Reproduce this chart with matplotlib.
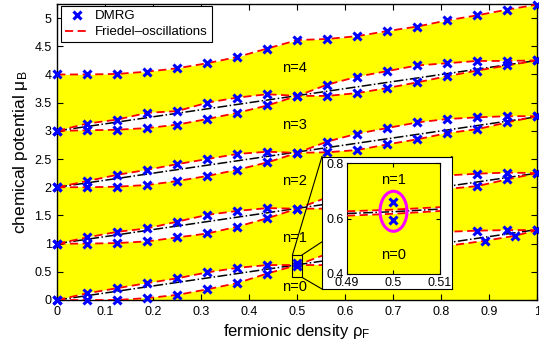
import matplotlib
matplotlib.use('Agg')
import numpy as np
import matplotlib.pyplot as plt
from matplotlib.patches import Ellipse, Rectangle
from matplotlib.ticker import FuncFormatter

plt.rcParams['font.family'] = ['Liberation Sans', 'DejaVu Sans']
plt.rcParams['mathtext.fontset'] = 'custom'
plt.rcParams['mathtext.rm'] = 'Liberation Sans'
plt.rcParams['mathtext.it'] = 'Liberation Sans:italic'

# --- data ---
rho = [0, 0.0625, 0.125, 0.1875, 0.25, 0.3125, 0.375, 0.4375, 0.5,
       0.5625, 0.625, 0.6875, 0.75, 0.8125, 0.875, 0.9375, 1.0]

# upper boundary of the n=4 plateau
top = [4.00, 4.00, 4.01, 4.05, 4.11, 4.20, 4.31, 4.46, 4.61,
       4.63, 4.68, 4.77, 4.85, 4.96, 5.05, 5.15, 5.24]

# gap between plateau n and n+1: upper edge (start of n+1), lower edge (end of n)
up0 = [0.00, 0.12, 0.21, 0.30, 0.385, 0.49, 0.57, 0.62, 0.62,
       0.82, 0.96, 1.06, 1.15, 1.21, 1.23, 1.24, 1.24]
lo0_x = [0, 0.0625, 0.125, 0.1875, 0.25, 0.3125, 0.375, 0.4375, 0.5,
         0.5625, 0.625, 0.6875, 0.75, 0.8125, 0.891, 0.954, 1.0]
lo0 = [0.00, 0.00, 0.00, 0.035, 0.09, 0.19, 0.30, 0.47, 0.62,
       0.62, 0.67, 0.76, 0.86, 0.96, 1.05, 1.14, 1.24]

up1 = [1.00, 1.11, 1.21, 1.27, 1.39, 1.51, 1.58, 1.63, 1.62,
       1.82, 1.96, 2.06, 2.15, 2.21, 2.24, 2.26, 2.25]
lo1 = [1.00, 1.00, 1.01, 1.04, 1.11, 1.18, 1.30, 1.45, 1.62,
       1.62, 1.67, 1.76, 1.86, 1.97, 2.02, 2.14, 2.25]

up2 = [2.00, 2.11, 2.22, 2.31, 2.41, 2.50, 2.59, 2.63, 2.61,
       2.81, 2.95, 3.05, 3.15, 3.21, 3.24, 3.26, 3.26]
lo2 = [2.00, 2.00, 2.01, 2.04, 2.11, 2.20, 2.31, 2.44, 2.61,
       2.62, 2.66, 2.76, 2.85, 2.96, 3.03, 3.15, 3.26]

up3 = [3.00, 3.13, 3.20, 3.32, 3.35, 3.50, 3.59, 3.65, 3.62,
       3.82, 3.96, 4.06, 4.16, 4.20, 4.24, 4.24, 4.25]
lo3 = [3.00, 3.01, 3.02, 3.05, 3.11, 3.21, 3.32, 3.45, 3.62,
       3.62, 3.67, 3.76, 3.86, 3.97, 4.07, 4.16, 4.25]

# linear guide through each gap
mid_x = [0, 1]
mid_y = [[0, 1.25], [1, 2.25], [2, 3.25], [3, 4.25]]

# the two DMRG points at rho=0.5 that the inset resolves
dmrg_half_x = [0.5, 0.5]
dmrg_half_y = [0.661, 0.596]

# inset curves
ins_x = [0.49, 0.5, 0.51]
ins_up = [0.627, 0.633, 0.642]
ins_lo = [0.611, 0.618, 0.628]
ins_mid = [0.619, 0.6255, 0.635]

plateau_labels = ['n=4', 'n=3', 'n=2', 'n=1', 'n=0']
plateau_y = [4.11, 3.11, 2.11, 1.10, 0.23]

# --- figure ---
fig = plt.figure(figsize=(5.39, 3.51), dpi=100)
ax = fig.add_axes([0.1063, 0.1453, 0.8905, 0.8433])
ax.set_facecolor('white')

ax.fill_between(rho, 0, top, color='yellow', lw=0, zorder=1)
bands = [(rho, up0, lo0_x, lo0), (rho, up1, rho, lo1), (rho, up2, rho, lo2), (rho, up3, rho, lo3)]
for xu, yu, xl, yl in bands:
    ax.fill(np.r_[xu, xl[::-1]], np.r_[yu, yl[::-1]], color='white', lw=0, zorder=2)

for my in mid_y:
    ax.plot(mid_x, my, color='black', ls='-.', lw=1.1, zorder=3)

red_kw = dict(color='red', ls=(0, (4.5, 2.5)), lw=1.3, zorder=4)
ax.plot(rho, top, **red_kw, label='Friedel\u2013oscillations')
for xu, yu, xl, yl in bands:
    ax.plot(xu, yu, **red_kw)
    ax.plot(xl, yl, **red_kw)

mk_kw = dict(ls='none', marker='x', color='blue', ms=5.5, mew=2.2, zorder=5, clip_on=False)
ax.plot(rho, top, **mk_kw, label='DMRG')
for i, (xu, yu, xl, yl) in enumerate(bands):
    xu, yu, xl, yl = map(np.asarray, (xu, yu, xl, yl))
    if i == 0:
        keep_u = xu != 0.5
        keep_l = xl != 0.5
        ax.plot(xu[keep_u], yu[keep_u], **mk_kw)
        ax.plot(xl[keep_l], yl[keep_l], **mk_kw)
    else:
        ax.plot(xu, yu, **mk_kw)
        ax.plot(xl, yl, **mk_kw)
ax.plot(dmrg_half_x, dmrg_half_y, **mk_kw)

for lab, y in zip(plateau_labels, plateau_y):
    ax.text(0.469, y, lab, fontsize=10.5, ha='left', va='center', zorder=6)

ax.set_xlim(0, 1)
ax.set_ylim(0, 5.25)
ax.set_xticks(np.arange(0, 1.01, 0.1))
ax.set_yticks(np.arange(0, 5.01, 0.5))
fmt = FuncFormatter(lambda v, p: '%g' % round(v, 3))
ax.xaxis.set_major_formatter(fmt)
ax.yaxis.set_major_formatter(fmt)
ax.tick_params(direction='in', length=4, width=0.8, top=True, right=True, labelsize=9, pad=4)
for s in ax.spines.values():
    s.set_linewidth(1.0)
ax.set_xlabel('fermionic density \u03c1$_\\mathrm{F}$', fontsize=12, labelpad=3)
ax.set_ylabel('chemical potential \u03bc$_\\mathrm{B}$', fontsize=12.5, labelpad=3)

h, l = ax.get_legend_handles_labels()
leg = ax.legend(h[::-1], l[::-1], loc='upper left', bbox_to_anchor=(0.0077, 0.993),
                borderaxespad=0, fontsize=9.5, handlelength=1.9, handletextpad=0.4,
                labelspacing=0.3, borderpad=0.3, fancybox=False, framealpha=1)
leg.get_frame().set_edgecolor('black')
leg.get_frame().set_linewidth(0.8)
leg.set_zorder(10)

# zoom rectangle and connectors to the inset
ax.add_patch(Rectangle((0.49, 0.4), 0.02, 0.4, fill=False, ec='black', lw=0.8, zorder=6))
box = [0.5974, 0.1766, 0.2412, 0.3775]
to_data = lambda fx, fy: ax.transData.inverted().transform(fig.transFigure.transform((fx, fy)))
bl = to_data(box[0], box[1])
tl = to_data(box[0], box[1] + box[3])
tr = to_data(box[0] + box[2], box[1] + box[3])
for (x0, y0), (x1, y1) in [((0.49, 0.8), tl), ((0.51, 0.8), tr), ((0.51, 0.4), bl)]:
    ax.plot([x0, x1], [y0, y1], color='black', lw=0.8, zorder=6)

axbox = fig.add_axes(box)
axbox.set_facecolor('white')
axbox.set_xticks([]); axbox.set_yticks([])
for s in axbox.spines.values():
    s.set_linewidth(0.8)

axin = fig.add_axes([0.6438, 0.2194, 0.1725, 0.3148])
axin.set_facecolor('yellow')
axin.fill_between(ins_x, ins_lo, ins_up, color='white', lw=0, zorder=1)
axin.plot(ins_x, ins_mid, color='black', ls='-.', lw=1.1, zorder=2)
axin.plot(ins_x, ins_up, **red_kw)
axin.plot(ins_x, ins_lo, **red_kw)
axin.plot(dmrg_half_x, dmrg_half_y, **mk_kw)
axin.add_patch(Ellipse((0.5, 0.627), 0.0058, 0.145, fill=False, ec='magenta', lw=2.2, zorder=6))
axin.text(0.5, 0.742, 'n=1', fontsize=10.5, ha='center', va='center')
axin.text(0.5, 0.469, 'n=0', fontsize=10.5, ha='center', va='center')
axin.set_xlim(0.49, 0.51)
axin.set_ylim(0.4, 0.8)
axin.set_xticks([0.49, 0.5, 0.51])
axin.set_yticks([0.4, 0.6, 0.8])
axin.xaxis.set_major_formatter(fmt)
axin.yaxis.set_major_formatter(fmt)
axin.tick_params(direction='in', length=3, width=0.8, top=True, right=True, labelsize=9, pad=2)
for s in axin.spines.values():
    s.set_linewidth(0.8)

fig.savefig('out.png', dpi=100)
